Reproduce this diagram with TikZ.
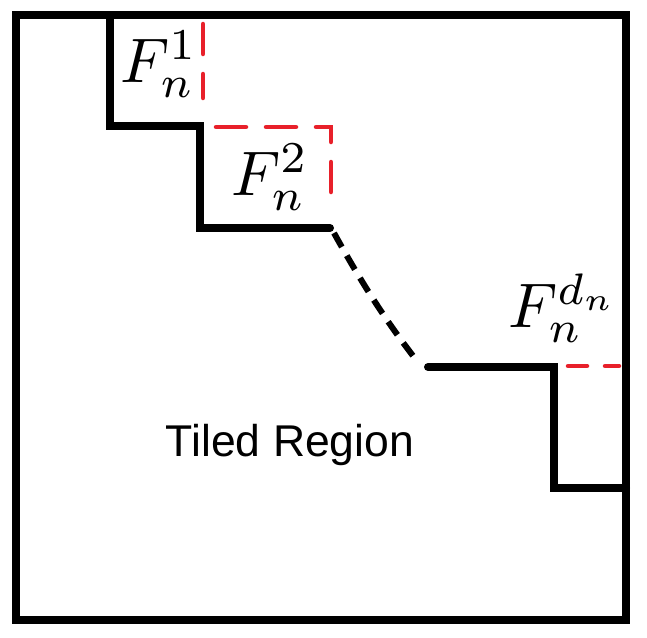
\documentclass[tikz,border=0pt]{standalone}
\usepackage{graphicx}
\usepackage{fontspec}
\newfontfamily\labelsans{Liberation Sans}
\definecolor{stepred}{RGB}{232,32,42}
\tikzset{
  frame/.style={line width=8pt, line join=miter},
  stair/.style={line width=8pt, line cap=round, line join=miter},
  gapline/.style={line width=6pt, dash pattern=on 16pt off 10pt},
  reddash/.style={stepred, line width=4.5pt, line cap=round, dash pattern=on 30pt off 20pt},
  flabel/.style={inner sep=0pt, anchor=base west},
}
\newcommand{\biglabel}[1]{\scalebox{6.3}{$#1$}}
\begin{document}
\begin{tikzpicture}[x=1pt,y=-1pt]
\useasboundingbox (0,0) rectangle (647,637);
% outer frame
\draw[frame] (16,15) rectangle (626,620);
% staircase top
\coordinate (s1) at (110,15);
\coordinate (s2) at (110,126);
\coordinate (s3) at (200,126);
\coordinate (s4) at (200,228);
\coordinate (s5) at (330,228);
\draw[stair] (s1) -- (s2) -- (s3) -- (s4) -- (s5);
% dashed connector
\coordinate (d1) at (334,233);
\coordinate (d2) at (417,361);
\draw[gapline] (d1) .. controls (360,280) and (385,320) .. (d2);
% staircase bottom
\coordinate (t1) at (428,367);
\coordinate (t2) at (554,367);
\coordinate (t3) at (554,488);
\coordinate (t4) at (626,488);
\draw[stair] (t1) -- (t2) -- (t3) -- (t4);
% red dashed completions
\coordinate (r1) at (203,24);
\coordinate (r2) at (203,98);
\draw[reddash] (r1) -- (r2);
\coordinate (r3) at (216,127);
\coordinate (r4) at (331,127);
\coordinate (r5) at (331,203);
\draw[reddash] (r3) -- (r4) -- (r5);
\coordinate (r6) at (568,366);
\coordinate (r7) at (619,366);
\draw[stepred, line width=4.5pt, line cap=round, dash pattern=on 19pt off 18pt] (r6) -- (r7);
% labels
\node[flabel] (f1) at (120,82) {\biglabel{F_n^1}};
\node[flabel] (f2) at (231,195) {\biglabel{F_n^2}};
\node[flabel] (fd) at (508,327) {\biglabel{F_n^{d_n}}};
\node[inner sep=0pt, anchor=base, font=\labelsans\fontsize{44.5}{50}\selectfont] (tr) at (290,456) {Tiled Region};
\end{tikzpicture}
\end{document}
